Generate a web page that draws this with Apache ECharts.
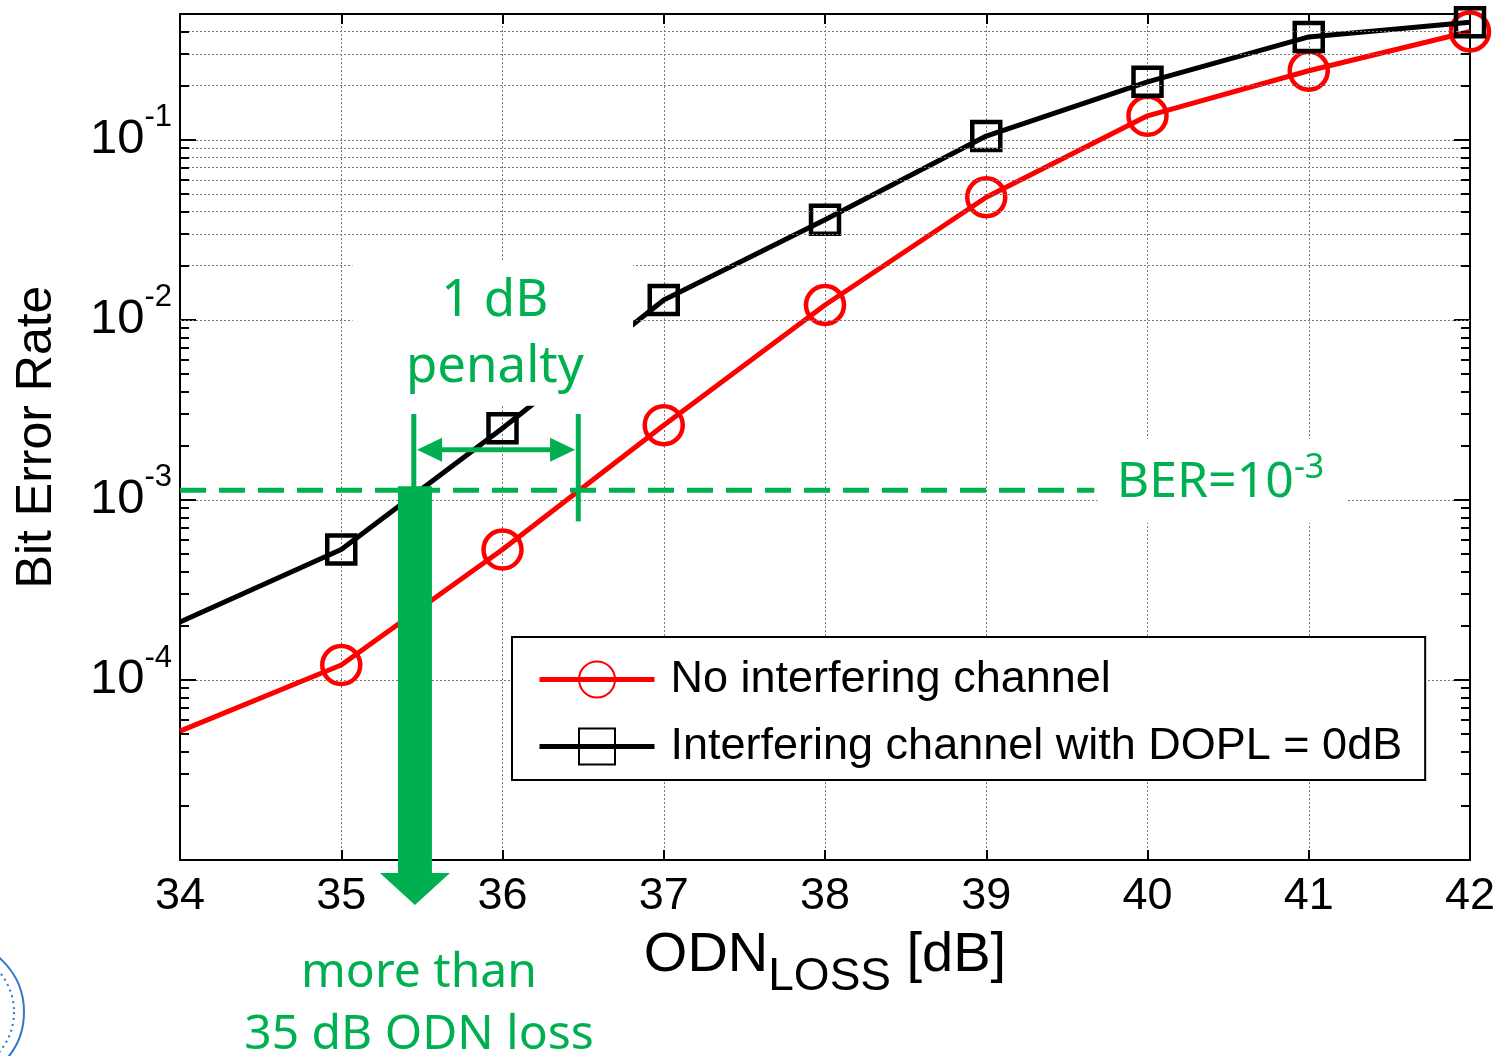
<!DOCTYPE html>
<html>
<head>
<meta charset="utf-8">
<title>BER vs ODN loss</title>
<script src="https://cdn.jsdelivr.net/npm/echarts@6/dist/echarts.min.js"></script>
<style>
  html, body { margin: 0; padding: 0; background: #fff; }
  #main { width: 1500px; height: 1056px; }
</style>
</head>
<body>
<div id="main"></div>
<script>
  // values
  const odnLoss = [34, 35, 36, 37, 38, 39, 40, 41, 42]
  const berNoInterf = [5.2e-5, 1.21e-4, 5.3e-4, 2.6e-3, 1.21e-2, 4.8e-2, 0.136, 0.242, 0.40]
  const berInterf = [2.1e-4, 5.3e-4, 2.5e-3, 1.29e-2, 3.6e-2, 0.105, 0.21, 0.373, 0.45]
  const seriesNames = ['No interfering channel', 'Interfering channel with DOPL = 0dB']
  const xTicks = [34, 42]
  const yRange = [1e-5, 0.5]
  const berTarget = 1.13e-3

  const GREEN = '#00B050'
  const AXIS_FONT = '"Liberation Sans", Arial, sans-serif'
  const NOTE_FONT = '"Noto Sans", sans-serif'

  // log grid: 2..9 inside each decade
  const minorValues = []
  for (let e = -5; e <= -1; e++) {
    for (let m = 2; m <= 9; m++) {
      const v = m * Math.pow(10, e)
      if (v < yRange[1]) minorValues.push(+v.toPrecision(3))
    }
  }

  const toPoints = (vals) => odnLoss.map((x, i) =>
    i === 0 ? { value: [x, vals[i]], symbol: 'none' } : [x, vals[i]])

  const gridLine = { color: '#7a7a7a', width: 1, type: [2, 2] }
  const tickLen = 0.056

  const chart = echarts.init(document.getElementById('main'))

  chart.setOption({
    animation: false,
    backgroundColor: '#fff',
    grid: { left: 180, right: 30, top: 14, bottom: 196 },
    legend: {
      data: seriesNames,
      orient: 'vertical',
      left: 512,
      top: 637,
      padding: [20, 23, 11, 25],
      itemGap: 22,
      itemWidth: 115,
      itemHeight: 45,
      backgroundColor: '#fff',
      borderColor: '#000',
      borderWidth: 2,
      borderRadius: 0,
      lineStyle: { width: 5 },
      textStyle: { fontSize: 45, color: '#000', fontFamily: AXIS_FONT, padding: [0, 0, 0, 11] }
    },
    xAxis: [{
      type: 'value',
      min: xTicks[0],
      max: xTicks[1],
      interval: 1,
      name: '{a|ODN}{s|LOSS}{a| [dB]}',
      nameLocation: 'middle',
      nameGap: 52,
      nameTextStyle: {
        color: '#000',
        rich: {
          a: { fontSize: 56, fontFamily: AXIS_FONT, color: '#000' },
          s: { fontSize: 46, fontFamily: AXIS_FONT, color: '#000', padding: [42, 0, 0, 0] }
        }
      },
      axisLine: { lineStyle: { color: '#000', width: 2 } },
      axisTick: { inside: true, length: 10, lineStyle: { color: '#000', width: 2 } },
      axisLabel: { fontSize: 45, color: '#000', fontFamily: AXIS_FONT, margin: 14 },
      splitLine: { show: true, lineStyle: gridLine }
    }, {
      type: 'value',
      position: 'top',
      min: xTicks[0],
      max: xTicks[1],
      interval: 1,
      axisLine: { lineStyle: { color: '#000', width: 2 } },
      axisTick: { inside: true, length: 10, lineStyle: { color: '#000', width: 2 } },
      axisLabel: { show: false },
      splitLine: { show: false }
    }],
    yAxis: [{
      type: 'log',
      logBase: 10,
      min: yRange[0],
      max: yRange[1],
      name: 'Bit Error Rate',
      nameLocation: 'middle',
      nameGap: 118,
      nameTextStyle: { fontSize: 50, color: '#000', fontFamily: AXIS_FONT },
      axisLine: { lineStyle: { color: '#000', width: 2 } },
      axisTick: { inside: true, length: 16, lineStyle: { color: '#000', width: 2 } },
      axisLabel: {
        margin: 8,
        color: '#000',
        formatter: (v) => {
          const lg = Math.log10(v)
          const e = Math.round(lg)
          if (Math.abs(lg - e) > 1e-6 || e <= -5) return ''
          return '{b|10}{s|' + e + '}'
        },
        rich: {
          b: { fontSize: 49, fontFamily: AXIS_FONT, color: '#000' },
          s: { fontSize: 31, fontFamily: AXIS_FONT, color: '#000', padding: [0, 0, 44, 0] }
        }
      },
      splitLine: { show: true, lineStyle: gridLine }
    }, {
      type: 'log',
      logBase: 10,
      min: yRange[0],
      max: yRange[1],
      position: 'right',
      axisLine: { lineStyle: { color: '#000', width: 2 } },
      axisTick: { inside: true, length: 16, lineStyle: { color: '#000', width: 2 } },
      axisLabel: { show: false },
      splitLine: { show: false }
    }],
    series: [{
      // minor log grid + minor ticks on both sides
      type: 'line',
      data: [],
      silent: true,
      markLine: {
        silent: true,
        symbol: 'none',
        label: { show: false },
        animation: false,
        lineStyle: gridLine,
        data: minorValues.map(v => ({ yAxis: v }))
          .concat(minorValues.map(v => [
            { coord: [xTicks[0], v], lineStyle: { color: '#000', width: 2, type: 'solid' } },
            { coord: [xTicks[0] + tickLen, v] }
          ]))
          .concat(minorValues.map(v => [
            { coord: [xTicks[1] - tickLen, v], lineStyle: { color: '#000', width: 2, type: 'solid' } },
            { coord: [xTicks[1], v] }
          ]))
      }
    }, {
      name: seriesNames[0],
      type: 'line',
      data: toPoints(berNoInterf),
      symbol: 'circle',
      symbolSize: 38,
      z: 3,
      color: '#ff0000',
      lineStyle: { color: '#ff0000', width: 5 },
      itemStyle: { color: 'rgba(255,255,255,0)', borderColor: '#ff0000', borderWidth: 4.5 }
    }, {
      name: seriesNames[1],
      type: 'line',
      data: toPoints(berInterf),
      symbol: 'rect',
      symbolSize: 28,
      z: 4,
      color: '#000',
      lineStyle: { color: '#000', width: 5 },
      itemStyle: { color: 'rgba(255,255,255,0)', borderColor: '#000', borderWidth: 4.5 }
    }]
  })

  // annotations placed through the chart's own axes
  function drawNotes() {
    const p = (x, y) => chart.convertToPixel({ seriesIndex: 1 }, [x, y])
    const box = (a, b) => ({
      type: 'rect', z: 100, silent: true,
      shape: { x: a[0], y: a[1], width: b[0] - a[0], height: b[1] - a[1] },
      style: { fill: '#fff' }
    })
    const seg = (a, b, extra) => Object.assign({
      type: 'line', z: 110, silent: true,
      shape: { x1: a[0], y1: a[1], x2: b[0], y2: b[1] },
      style: { stroke: GREEN, lineWidth: 5 }
    }, extra || {})

    const b1a = p(35.07, 0.0215), b1b = p(36.81, 3.33e-3)
    const b2a = p(39.69, 2.18e-3), b2b = p(41.24, 7.45e-4)

    const dashA = p(34, berTarget), dashB = p(39.67, berTarget)
    const vlTop = p(35.45, 3.0e-3), vlBot = p(35.45, berTarget)
    const vrTop = p(36.47, 3.0e-3), vrBot = p(36.47, 7.6e-4)
    const arL = p(35.47, 1.9e-3), arR = p(36.45, 1.9e-3)

    const bigTop = p(35.457, berTarget)
    const axisBottom = p(34, yRange[0])[1]
    const cx = bigTop[0]
    const tipY = axisBottom + 45
    const headY = tipY - 32

    chart.setOption({
      graphic: [
        box(b1a, b1b),
        box(b2a, b2b),
        {
          type: 'text', z: 120, silent: true,
          x: (b1a[0] + b1b[0]) / 2 + 2, y: (b1a[1] + b1b[1]) / 2 + 2,
          style: {
            text: '1 dB\npenalty', fill: GREEN, font: '51px ' + NOTE_FONT,
            align: 'center', verticalAlign: 'middle', lineHeight: 66
          }
        },
        {
          type: 'text', z: 120, silent: true,
          x: (b2a[0] + b2b[0]) / 2 - 2, y: (b2a[1] + b2b[1]) / 2 + 2,
          style: {
            text: '{m|BER=10}{s|-3}', align: 'center', verticalAlign: 'middle',
            rich: {
              m: { fontSize: 50, fontFamily: NOTE_FONT, fill: GREEN },
              s: { fontSize: 34, fontFamily: NOTE_FONT, fill: GREEN, padding: [0, 0, 30, 0] }
            }
          }
        },
        seg(dashA, dashB, { style: { stroke: GREEN, lineWidth: 5, lineDash: [26, 13] } }),
        seg(vlTop, vlBot),
        seg(vrTop, vrBot),
        seg([arL[0] + 18, arL[1]], [arR[0] - 18, arR[1]]),
        {
          type: 'polygon', z: 110, silent: true,
          shape: { points: [[arL[0], arL[1]], [arL[0] + 25, arL[1] - 12], [arL[0] + 25, arL[1] + 12]] },
          style: { fill: GREEN }
        },
        {
          type: 'polygon', z: 110, silent: true,
          shape: { points: [[arR[0], arR[1]], [arR[0] - 25, arR[1] - 12], [arR[0] - 25, arR[1] + 12]] },
          style: { fill: GREEN }
        },
        {
          type: 'polygon', z: 115, silent: true,
          shape: {
            points: [
              [cx - 17, bigTop[1] - 4], [cx + 17, bigTop[1] - 4], [cx + 17, headY],
              [cx + 35, headY], [cx, tipY], [cx - 35, headY], [cx - 17, headY]
            ]
          },
          style: { fill: GREEN }
        },
        {
          type: 'text', z: 120, silent: true,
          x: cx + 4, y: tipY + 99,
          style: {
            text: 'more than\n35 dB ODN loss', fill: GREEN, font: '48px ' + NOTE_FONT,
            align: 'center', verticalAlign: 'middle', lineHeight: 62
          }
        },
        {
          // edge of the university seal, cut off by the page
          type: 'circle', z: 120, silent: true,
          shape: { cx: -48, cy: 1012, r: 72 },
          style: { fill: 'none', stroke: '#2f78c4', lineWidth: 2 }
        },
        {
          type: 'circle', z: 120, silent: true,
          shape: { cx: -48, cy: 1012, r: 62 },
          style: { fill: 'none', stroke: '#2f78c4', lineWidth: 2, lineDash: [2, 4] }
        }
      ]
    })
  }

  drawNotes()
</script>
</body>
</html>
